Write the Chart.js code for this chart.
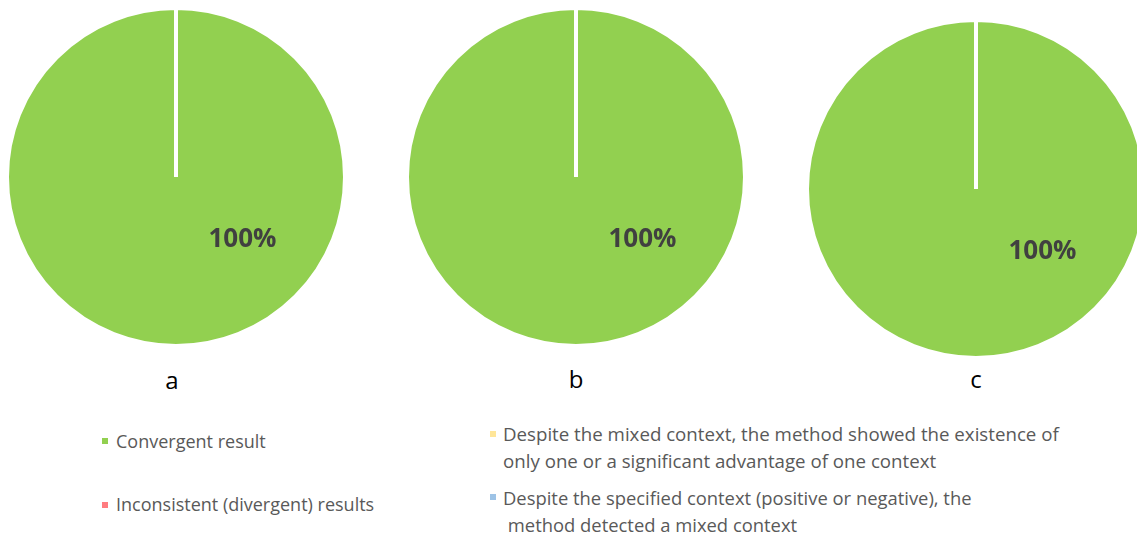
<!DOCTYPE html>
<html>
<head>
<meta charset="utf-8">
<script src="https://cdn.jsdelivr.net/npm/chart.js@4.4.1/dist/chart.umd.min.js"></script>
<style>
  html, body { margin: 0; padding: 0; background: #ffffff; overflow: hidden; }
  body { width: 1137px; height: 541px; position: relative; font-family: "Open Sans", sans-serif; }
  .pie { position: absolute; }
  .panel-label { position: absolute; font-family: "Open Sans", sans-serif; font-size: 24px; color: #000; transform: translate(-50%, -50%); line-height: 1; }
  .legend-item { position: absolute; color: #595959; line-height: 27px; white-space: pre; }
  .legend-box { position: absolute; width: 6px; height: 6px; }
</style>
</head>
<body>
<canvas id="pieA" class="pie" width="342" height="342"></canvas>
<canvas id="pieB" class="pie" width="342" height="342"></canvas>
<canvas id="pieC" class="pie" width="342" height="342"></canvas>
<div id="legend"></div>
<script>
// Panels and result categories
const panels = ['a', 'b', 'c'];
const categories = [
  ['Convergent result'],
  ['Inconsistent (divergent) results'],
  ['Despite the mixed context, the method showed the existence of', 'only one or a significant advantage of one context'],
  ['Despite the specified context (positive or negative), the', ' method detected a mixed context']
];
// Share of results (%) per panel a, b, c
const convergent    = [100, 100, 100];
const inconsistent  = [0, 0, 0];
const mixedToSingle = [0, 0, 0];
const singleToMixed = [0, 0, 0];

const colors = ['#92D050', '#FF7C80', '#FFE699', '#9DC3E6'];

// Layout: canvas top-left for each pie, label centres, legend placement
const pieBoxes = [
  { id: 'pieA', left: 5,   top: 6,  label: [172, 380] },
  { id: 'pieB', left: 405, top: 6,  label: [576, 379] },
  { id: 'pieC', left: 805, top: 18, label: [976, 379] }
];
const legendSlots = [
  { box: [102, 438], text: [116, 428], size: 18 },
  { box: [102, 502], text: [116, 491], size: 18 },
  { box: [490, 431], text: [503, 420], size: 18.7 },
  { box: [490, 494], text: [503, 484], size: 18.4 }
];

// Percentage label drawn inside the largest slice
const valueLabel = {
  id: 'valueLabel',
  afterDatasetsDraw(chart) {
    const ctx = chart.ctx;
    const meta = chart.getDatasetMeta(0);
    const data = chart.data.datasets[0].data;
    meta.data.forEach((arc, i) => {
      const v = data[i];
      if (!v) return;
      const r = arc.outerRadius;
      ctx.save();
      ctx.font = 'bold 26px "Open Sans", sans-serif';
      ctx.fillStyle = '#404040';
      ctx.textAlign = 'center';
      ctx.textBaseline = 'middle';
      ctx.fillText(v + '%', arc.x + r * 0.393, arc.y + r * 0.373);
      ctx.restore();
    });
  }
};

panels.forEach((p, i) => {
  const box = pieBoxes[i];
  const canvas = document.getElementById(box.id);
  canvas.style.left = box.left + 'px';
  canvas.style.top = box.top + 'px';
  new Chart(canvas, {
    type: 'pie',
    data: {
      labels: categories.map(c => c.join(' ')),
      datasets: [{
        data: [convergent[i], inconsistent[i], mixedToSingle[i], singleToMixed[i]],
        backgroundColor: colors,
        borderColor: '#ffffff',
        borderWidth: 4
      }]
    },
    options: {
      responsive: false,
      animation: false,
      layout: { padding: 0 },
      events: [],
      plugins: { legend: { display: false }, tooltip: { enabled: false } }
    },
    plugins: [valueLabel]
  });
  const lab = document.createElement('div');
  lab.className = 'panel-label';
  lab.textContent = p;
  lab.style.left = box.label[0] + 'px';
  lab.style.top = box.label[1] + 'px';
  document.body.appendChild(lab);
});

// Shared legend
const legend = document.getElementById('legend');
categories.forEach((lines, i) => {
  const slot = legendSlots[i];
  const sq = document.createElement('div');
  sq.className = 'legend-box';
  sq.style.background = colors[i];
  sq.style.left = slot.box[0] + 'px';
  sq.style.top = slot.box[1] + 'px';
  legend.appendChild(sq);
  const t = document.createElement('div');
  t.className = 'legend-item';
  t.textContent = lines.join('\n');
  t.style.fontSize = slot.size + 'px';
  t.style.left = slot.text[0] + 'px';
  t.style.top = slot.text[1] + 'px';
  legend.appendChild(t);
});
</script>
</body>
</html>
